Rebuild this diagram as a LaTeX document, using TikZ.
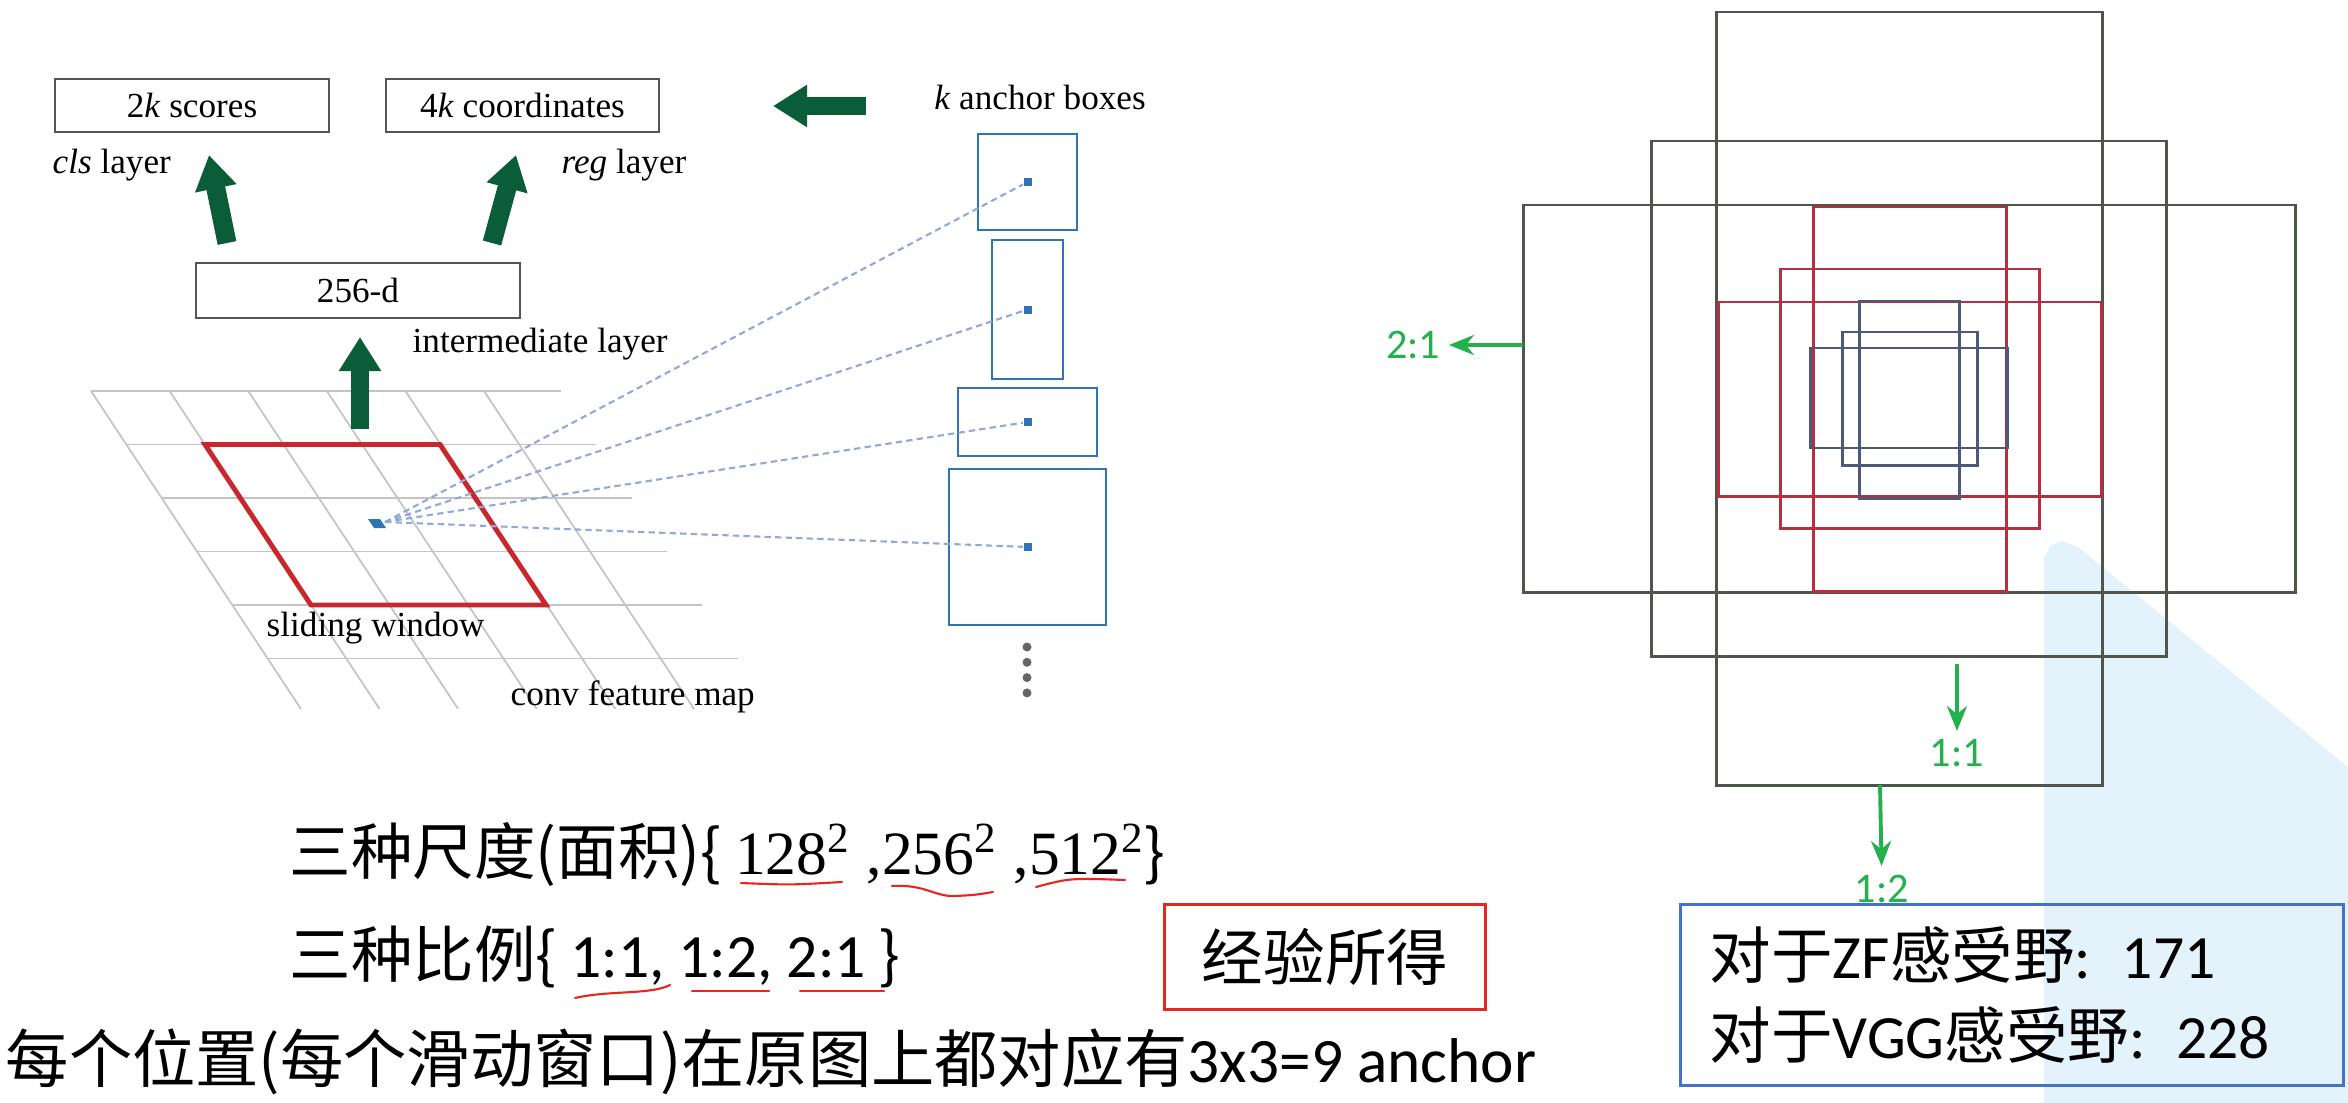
\documentclass[tikz,border=0pt]{standalone}
\usepackage{fontspec}
\setmainfont{Liberation Serif}
\newfontfamily\cjkfont{Noto Sans CJK SC}
\newfontfamily\calfont{Carlito}
\usetikzlibrary{arrows.meta}
\definecolor{arrowgreen}{HTML}{0B5D3A}
\definecolor{markgreen}{HTML}{22B14C}
\definecolor{anchorblue}{HTML}{2E75B6}
\definecolor{raysblue}{HTML}{8FAAD6}
\definecolor{gridgray}{HTML}{C4C4C4}
\definecolor{boxgray}{HTML}{555555}
\definecolor{dotgray}{HTML}{666666}
\definecolor{winred}{HTML}{C8282D}
\definecolor{olivegray}{HTML}{4E554C}
\definecolor{rectred}{HTML}{B4303F}
\definecolor{rectnavy}{HTML}{4C5A7A}
\definecolor{notered}{HTML}{E8251F}
\definecolor{infoblue}{HTML}{4472C4}
\definecolor{watermark}{HTML}{E4F2FC}

\begin{document}
\begin{tikzpicture}[x=0.01cm,y=-0.01cm,
  layerbox/.style={draw=boxgray,line width=0.6pt,inner sep=0pt,font=\fontsize{10}{12}\selectfont},
  figlabel/.style={inner sep=0pt,font=\fontsize{10}{12}\selectfont},
  fatarrow/.style={arrowgreen,line width=5.4pt,-{Triangle[length=0.34cm,width=0.4cm]}},
  gridline/.style={gridgray,line width=0.5pt},
  anchorbox/.style={draw=anchorblue,line width=0.8pt,inner sep=0pt},
  anchordot/.style={fill=anchorblue,inner sep=0pt,minimum size=0.08cm},
  ray/.style={raysblue,line width=0.6pt,dash pattern=on 1.8pt off 1.2pt},
  olivebox/.style={olivegray,line width=0.85pt},
  redbox/.style={rectred,line width=0.85pt},
  navybox/.style={rectnavy,line width=0.85pt},
  ratioarrow/.style={markgreen,line width=1.1pt,-{Stealth[length=0.25cm,width=0.2cm]}},
  ratiolabel/.style={markgreen,inner sep=0.08cm,font=\calfont\fontsize{12}{14}\selectfont},
  cjktext/.style={inner sep=0pt,font=\cjkfont\fontsize{17.5}{21}\selectfont},
  scribble/.style={notered,line width=0.6pt,line cap=round}]
\useasboundingbox (0,0) rectangle (2348,1103);

% watermark
\fill[watermark] (2044,1103) -- (2044,558) -- (2050,546) -- (2062,541) -- (2078,547) -- (2348,767) -- (2348,1103) -- cycle;

% conv feature map grid
\foreach \i in {0,...,5}
  \draw[gridline] ({91+0.66*53.5*\i},{391+53.5*\i}) -- ++(470,0);
\foreach \j in {0,...,5}
  \draw[gridline] ({91+78.6*\j},391) -- ++(210,318);
\draw[winred,line width=1.4pt,line join=miter] (205,444.5) -- (440,444.5) -- (546,605) -- (311,605) -- cycle;
\fill[anchorblue] (368,519) -- (380,519) -- (386,528) -- (374,528) -- cycle;
\coordinate (ctr) at (385,522);

% layers
\node[layerbox,minimum width=2.74cm,minimum height=0.53cm] (scores) at (192,105.5) {2\textit{k} scores};
\node[layerbox,minimum width=2.73cm,minimum height=0.53cm] (coords) at (522.5,105.5) {4\textit{k} coordinates};
\node[layerbox,minimum width=3.24cm,minimum height=0.55cm] (inter) at (358,290.5) {256-d};
\node[figlabel,anchor=west] (clsname) at (52,165) {\textit{cls} layer};
\node[figlabel,anchor=west] (regname) at (561,165) {\textit{reg} layer};
\node[figlabel,anchor=west] (intername) at (412,344) {intermediate layer};
\node[figlabel,anchor=west] (slidename) at (266,628) {sliding window};
\node[figlabel,anchor=west] (convname) at (510,697) {conv feature map};
\node[figlabel] (anchorname) at (1040,97) {\textit{k} anchor boxes};

% fat arrows
\coordinate (clsfrom) at (227,243);
\coordinate (clsto) at (209,155);
\coordinate (regfrom) at (492,243);
\coordinate (regto) at (516,155);
\coordinate (winfrom) at (360,429);
\coordinate (winto) at (360,337);
\coordinate (boxfrom) at (866,106);
\coordinate (boxto) at (773,106);
\draw[fatarrow] (clsfrom) -- (clsto);
\draw[fatarrow] (regfrom) -- (regto);
\draw[fatarrow] (winfrom) -- (winto);
\draw[fatarrow] (boxfrom) -- (boxto);

% k anchor boxes
\node[anchorbox,minimum width=0.99cm,minimum height=0.96cm] (box1) at (1027.5,182) {};
\node[anchorbox,minimum width=0.71cm,minimum height=1.39cm] (box2) at (1027.5,309.5) {};
\node[anchorbox,minimum width=1.39cm,minimum height=0.68cm] (box3) at (1027.5,422) {};
\node[anchorbox,minimum width=1.57cm,minimum height=1.56cm] (box4) at (1027.5,547) {};
\foreach \n in {1,...,4} {
  \node[anchordot] (dot\n) at (box\n.center) {};
  \draw[ray] (ctr) -- (dot\n);
}
\foreach \k in {0,...,3}
  \fill[dotgray] (1027,{647+15.3*\k}) circle (0.045cm);

% anchors in the image
\draw[olivebox] (1716,12) rectangle (2102,785);
\draw[olivebox] (1651,141) rectangle (2166,656);
\draw[olivebox] (1523,205) rectangle (2295,592);
\draw[redbox] (1813,207) rectangle (2006,591);
\draw[redbox] (1780,269) rectangle (2039,528);
\draw[redbox] (1718,302) rectangle (2101,496);
\draw[navybox] (1859,301) rectangle (1959,498);
\draw[navybox] (1842,332) rectangle (1977,465);
\draw[navybox] (1810,348) rectangle (2007,448);

% ratio marks
\node[ratiolabel,anchor=east] (r21) at (1449,345) {2:1};
\node[ratiolabel,anchor=north] (r11) at (1957,731) {1:1};
\node[ratiolabel,anchor=north] (r12) at (1882,866) {1:2};
\coordinate (s21) at (1523,345);
\coordinate (s11) at (1957,664);
\coordinate (s12) at (1880,785);
\draw[ratioarrow] (s21) -- (r21);
\draw[ratioarrow] (s11) -- (r11);
\draw[ratioarrow] (s12) -- (r12);

% notes
\node[cjktext,anchor=west] (scales) at (289,855) {三种尺度(面积)\{ {\rmfamily 128\textsuperscript{2}\hspace{0.16cm},256\textsuperscript{2}\hspace{0.16cm},512\textsuperscript{2}}\}};
\node[cjktext,anchor=west] (ratios) at (289,957) {三种比例\{ {\calfont 1:1, 1:2, 2:1} \}};
\node[cjktext,anchor=west,font=\cjkfont\fontsize{18}{21}\selectfont] (perpos) at (5,1062) {每个位置(每个滑动窗口)在原图上都对应有{\calfont 3x3=9 anchor}};
\node[cjktext,draw=notered,line width=0.85pt,minimum width=3.2cm,minimum height=1.04cm] (empir) at (1325,957) {经验所得};
\node[cjktext,draw=infoblue,line width=0.85pt,minimum width=6.62cm,minimum height=1.8cm,text width=6.04cm,inner xsep=0.29cm,align=left] (field) at (2012,995)
  {对于{\calfont ZF}感受野{\calfont : 171}\\[2pt]对于{\calfont VGG}感受野{\calfont : 228}};

% underlines
\draw[scribble] (741,883) .. controls (790,885) .. (842,882);
\draw[scribble] (892,886) .. controls (925,884) and (935,897) .. (955,896) .. controls (975,895) .. (993,892);
\draw[scribble] (1036,887) .. controls (1070,878) .. (1125,880);
\draw[scribble] (575,998) .. controls (610,990) and (650,995) .. (670,985);
\draw[scribble] (692,991) -- (769,991);
\draw[scribble] (800,991) -- (884,991);
\end{tikzpicture}
\end{document}
